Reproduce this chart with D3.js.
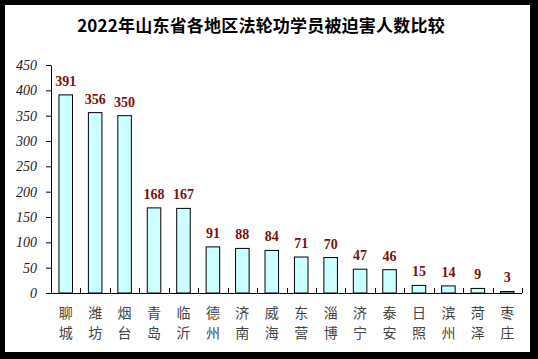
<!DOCTYPE html>
<html><head><meta charset="utf-8">
<script src="https://cdn.jsdelivr.net/npm/d3@7"></script>
<style>
html,body{margin:0;padding:0;background:#000;}
svg{display:block;}
</style></head>
<body>
<svg id="c" width="538" height="359"></svg>
<script>
const categories = ["聊城","潍坊","烟台","青岛","临沂","德州","济南","威海","东营","淄博","济宁","泰安","日照","滨州","菏泽","枣庄"];
const values = [391,356,350,168,167,91,88,84,71,70,47,46,15,14,9,3];
const yTicks = [0,50,100,150,200,250,300,350,400,450];
const title = "2022年山东省各地区法轮功学员被迫害人数比较";

const svg = d3.select("#c");
svg.append("rect").attr("x",5).attr("y",5).attr("width",525).attr("height",347).attr("fill","#fff");

const x = d3.scaleBand().domain(categories).range([51,522]).padding(0);
const y = d3.scaleLinear().domain([0,450]).range([293,65]);

svg.append("text").attr("x",261).attr("y",32).attr("text-anchor","middle")
  .style("font-family","'Noto Sans CJK SC'").style("font-weight","700").style("font-size","17px")
  .style("letter-spacing","0.2px").attr("fill","#000").text(title);

// y axis
const ya = svg.append("g").attr("transform","translate(51,0)")
  .call(d3.axisLeft(y).tickValues(yTicks).tickSize(5).tickSizeOuter(0).tickPadding(9));
ya.select(".domain").attr("stroke","#000");
ya.selectAll(".tick line").attr("stroke","#000");
ya.selectAll("text").style("font-family","'Liberation Serif'").style("font-style","italic")
  .style("font-size","14px").attr("fill","#222");

// bars
const bw = x.step()*0.46;
svg.append("g").selectAll("rect").data(values).join("rect")
  .attr("x",(d,i)=>x(categories[i])+x.bandwidth()/2-bw/2)
  .attr("y",d=>y(d)).attr("width",bw).attr("height",d=>y(0)-y(d))
  .attr("fill","#ccffff").attr("stroke","#000").attr("stroke-width",1);

// value labels
svg.append("g").selectAll("text").data(values).join("text")
  .attr("x",(d,i)=>x(categories[i])+x.bandwidth()/2)
  .attr("y",d=>y(d)-9).attr("text-anchor","middle")
  .style("font-family","'Liberation Serif'").style("font-weight","700").style("font-size","14px")
  .attr("fill","#7a1010").text(d=>d);

// x axis line and inner ticks at category boundaries
svg.append("line").attr("x1",51).attr("x2",522).attr("y1",293.5).attr("y2",293.5).attr("stroke","#000");
const bounds = categories.map(c=>x(c)).concat([x.range()[1]]);
svg.append("g").selectAll("line").data(bounds.slice(1)).join("line")
  .attr("x1",d=>Math.round(d)+0.5).attr("x2",d=>Math.round(d)+0.5).attr("y1",293).attr("y2",288).attr("stroke","#000");

// x labels (vertical two chars)
const xl = svg.append("g").selectAll("g").data(categories).join("g")
  .attr("transform",c=>`translate(${x(c)+x.bandwidth()/2},0)`);
xl.each(function(c){
  const g = d3.select(this);
  [...c].forEach((ch,k)=>{
    g.append("text").attr("x",0).attr("y",318+k*20).attr("text-anchor","middle")
     .style("font-family","'Noto Sans CJK SC'").style("font-size","14px").attr("fill","#444").text(ch);
  });
});
</script>
</body></html>
